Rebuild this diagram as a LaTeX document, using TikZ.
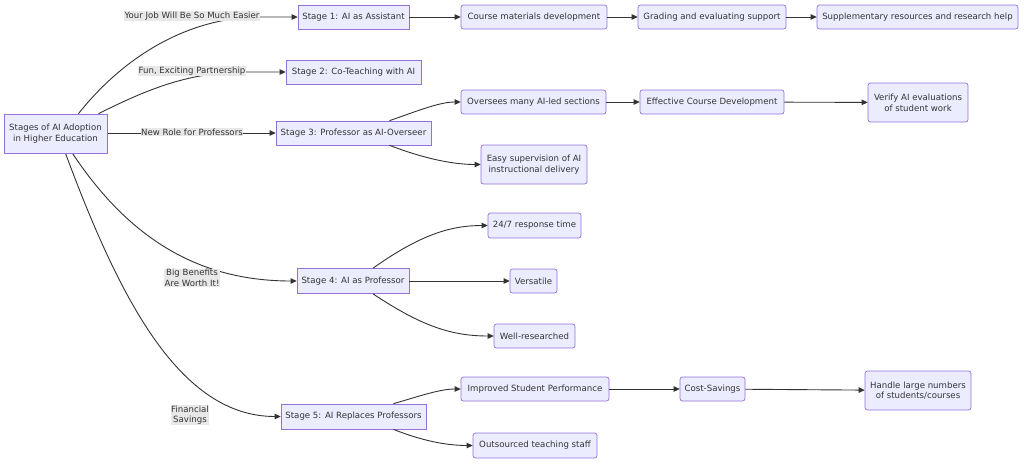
\documentclass[tikz,border=0pt]{standalone}
\usepackage{fontspec}
\setmainfont{DejaVu Sans}
\usetikzlibrary{arrows.meta,calc,backgrounds}
\definecolor{boxfill}{HTML}{ECECFF}
\definecolor{boxline}{HTML}{9370DB}
\definecolor{txt}{HTML}{333333}
\definecolor{lblbg}{HTML}{E8E8E8}
\tikzset{
  box/.style={draw=boxline, fill=boxfill, text=txt, font=\fontsize{8.6}{10.6}\selectfont, inner sep=0pt, align=center, line width=0.7pt},
  rbox/.style={box, rounded corners=2.5pt},
  lbl/.style={fill=lblbg, text=txt, font=\fontsize{8.6}{10.6}\selectfont, inner sep=0.6pt, align=center},
  conn/.style={draw=txt, line width=0.9pt, -{Triangle[length=6pt,width=5.5pt]}},
}
\begin{document}
\begin{tikzpicture}[x=1pt,y=-1pt]
\useasboundingbox (0,0) rectangle (1024,463);
% nodes
\node[box, minimum width=103pt, minimum height=39pt] (root) at (55.5,133.5) {Stages of AI Adoption\\in Higher Education};
\node[box, minimum width=111pt, minimum height=24pt] (s1) at (353.5,17) {Stage 1: AI as Assistant};
\node[rbox, minimum width=146pt, minimum height=24pt] (c1) at (534,17) {Course materials development};
\node[rbox, minimum width=148pt, minimum height=24pt] (g1) at (712,17) {Grading and evaluating support};
\node[rbox, minimum width=201pt, minimum height=24pt] (r1) at (917.5,17) {Supplementary resources and research help};
\node[box, minimum width=135pt, minimum height=24pt] (s2) at (353.5,72) {Stage 2: Co-Teaching with AI};
\node[box, minimum width=155pt, minimum height=24pt] (s3) at (353.5,133) {Stage 3: Professor as AI-Overseer};
\node[rbox, minimum width=145pt, minimum height=24pt] (o3) at (533.5,102) {Oversees many AI-led sections};
\node[rbox, minimum width=144pt, minimum height=24pt] (e3) at (712,102) {Effective Course Development};
\node[rbox, minimum width=100pt, minimum height=39pt] (v3) at (918,102.5) {Verify AI evaluations\\of student work};
\node[rbox, minimum width=106pt, minimum height=39pt] (ez3) at (534,164.5) {Easy supervision of AI\\instructional delivery};
\node[box, minimum width=112pt, minimum height=25pt] (s4) at (353,281) {Stage 4: AI as Professor};
\node[rbox, minimum width=93pt, minimum height=25pt] (t4) at (534.5,225.5) {24/7 response time};
\node[rbox, minimum width=47pt, minimum height=24pt] (vs4) at (533.5,281) {Versatile};
\node[rbox, minimum width=81pt, minimum height=24pt] (w4) at (534.5,336) {Well-researched};
\node[box, minimum width=145pt, minimum height=25pt] (s5) at (353.5,416.5) {Stage 5: AI Replaces Professors};
\node[rbox, minimum width=148pt, minimum height=24pt] (i5) at (535,389) {Improved Student Performance};
\node[rbox, minimum width=65pt, minimum height=24pt] (cs5) at (712.5,389) {Cost-Savings};
\node[rbox, minimum width=106pt, minimum height=39pt] (h5) at (918,390.5) {Handle large numbers\\of students/courses};
\node[rbox, minimum width=124pt, minimum height=25pt] (os5) at (535,445.5) {Outsourced teaching staff};
% edge labels
\node[lbl] (l1) at (192,16) {Your Job Will Be So Much Easier};
\node[lbl] (l2) at (192,71) {Fun, Exciting Partnership};
\node[lbl] (l3) at (192,132) {New Role for Professors};
\node[lbl] (l4) at (192,278) {Big Benefits\\Are Worth It!};
\node[lbl] (l5) at (190,415) {Financial\\Savings};
% connectors
\begin{scope}[on background layer]
\draw[conn] ($(root.north)+(23,0)$) .. controls (125,55) and (190,17) .. (l1.east |- s1.west) -- (s1.west);
\draw[conn] ($(root.north)+(43,0)$) .. controls (150,88) and (190,72) .. (l2.east |- s2.west) -- (s2.west);
\draw[conn] (root.east |- s3.west) -- (s3.west);
\draw[conn] ($(root.south)+(17,0)$) .. controls (130,240) and (200,281) .. (s4.west);
\draw[conn] ($(root.south)+(10,0)$) .. controls (120,300) and (180,416.5) .. (s5.west);
\end{scope}
\draw[conn] (s1) -- (c1);
\draw[conn] (c1) -- (g1);
\draw[conn] (g1) -- (r1);
\draw[conn] ($(s3.north)+(36,0)$) .. controls (420,110) and (440,102) .. (o3.west);
\draw[conn] ($(s3.south)+(36,0)$) .. controls (420,157) and (450,164.5) .. (ez3.west);
\draw[conn] (o3) -- (e3);
\draw[conn] (e3) -- (v3);
\draw[conn] ($(s4.north)+(20,0)$) .. controls (420,235) and (450,225.5) .. (t4.west);
\draw[conn] (s4) -- (vs4);
\draw[conn] ($(s4.south)+(20,0)$) .. controls (420,325) and (450,336) .. (w4.west);
\draw[conn] ($(s5.north)+(40,0)$) .. controls (420,396) and (440,389) .. (i5.west);
\draw[conn] ($(s5.south)+(40,0)$) .. controls (420,440) and (445,445.5) .. (os5.west);
\draw[conn] (i5) -- (cs5);
\draw[conn] (cs5) -- (h5);
\end{tikzpicture}
\end{document}
